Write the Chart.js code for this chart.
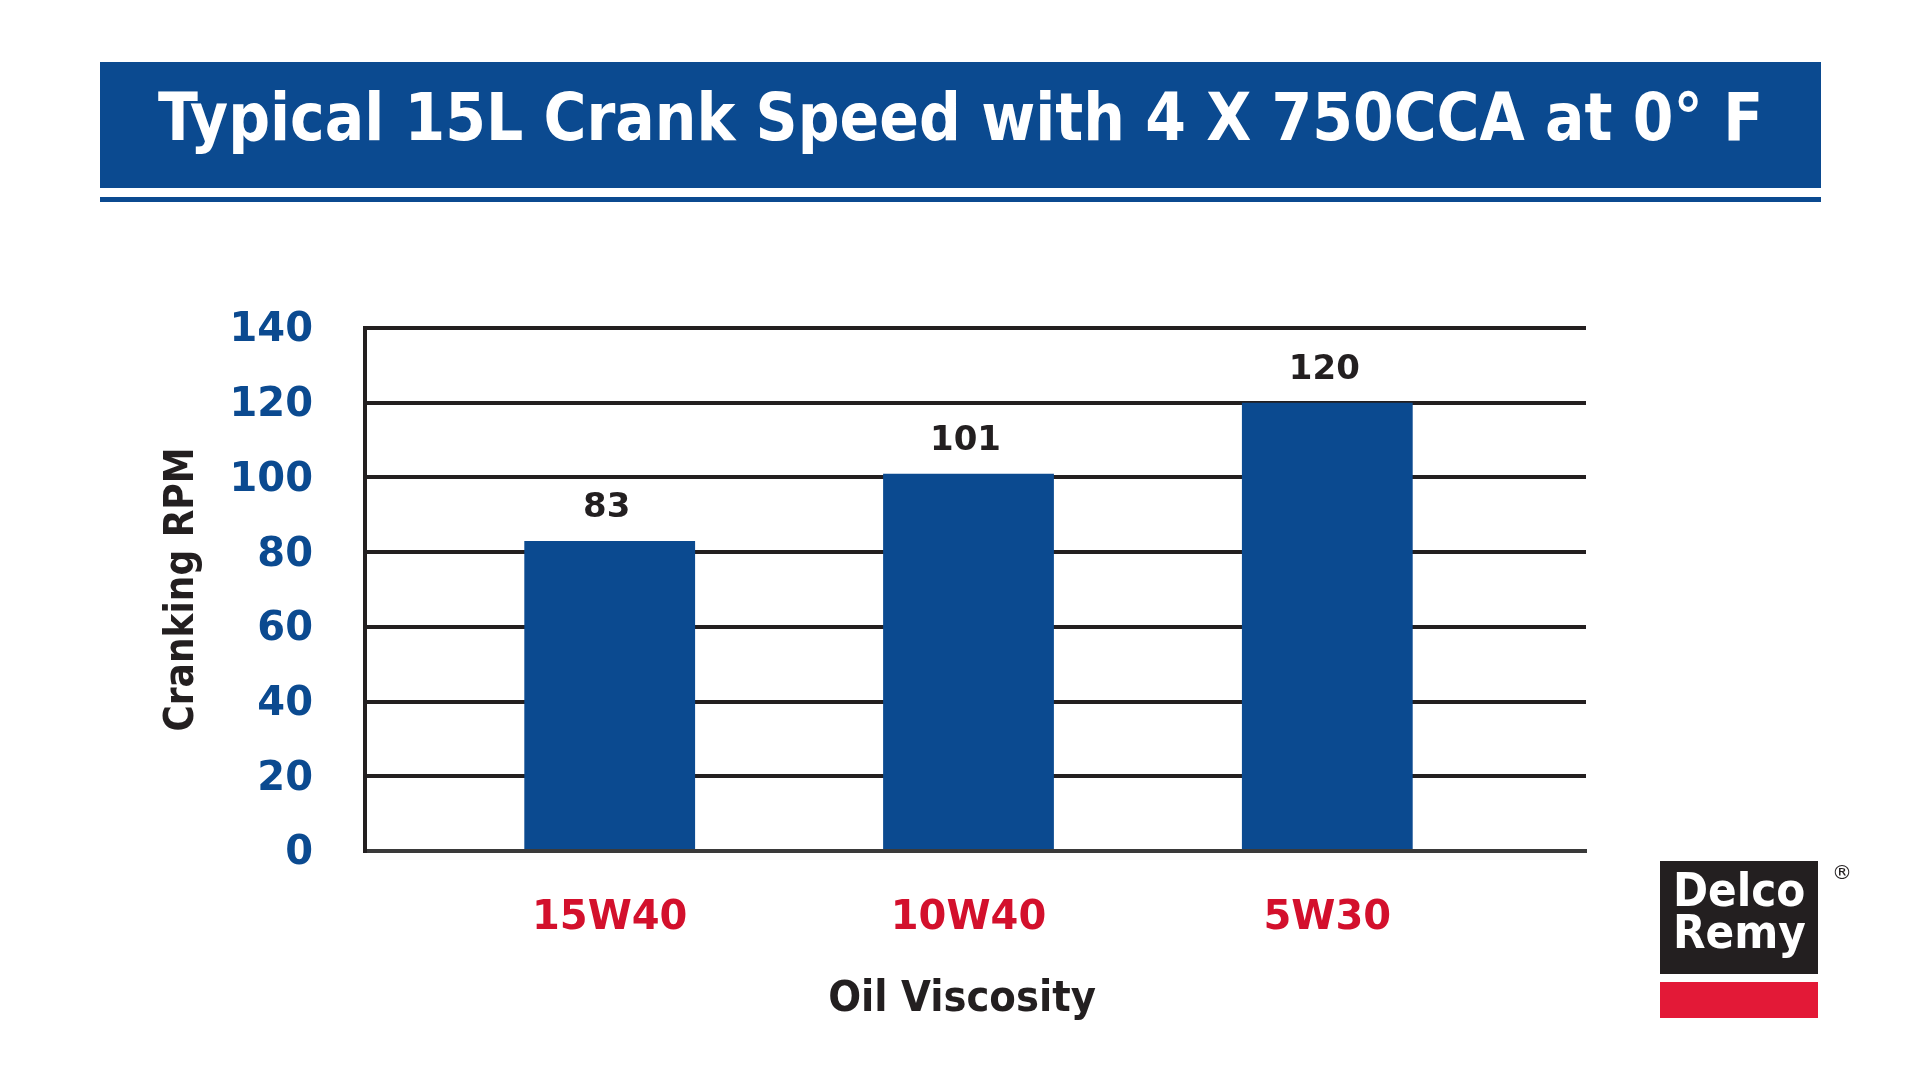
<!DOCTYPE html>
<html>
<head>
<meta charset="utf-8">
<script src="https://cdn.jsdelivr.net/npm/chart.js@4.4.1/dist/chart.umd.min.js"></script>
<style>
  body { margin: 0; background: #fff; }
  #wrap { position: relative; width: 1920px; height: 1080px; overflow: hidden; }
  #banner {
    position: absolute; left: 100px; top: 62px; width: 1721px; height: 126px;
    background: #0b4a90; color: #fff;
    font-family: "DejaVu Sans Condensed", "DejaVu Sans"; font-weight: bold; font-stretch: condensed;
    font-size: 65px; text-align: center; line-height: 112px; white-space: nowrap;
  }
  #rule { position: absolute; left: 100px; top: 197px; width: 1721px; height: 5px; background: #0b4a90; }
  canvas { position: absolute; left: 0; top: 0; }
  #logo { position: absolute; left: 1660px; top: 861px; width: 158px; height: 113px; background: #231f20; }
  #logo div {
    position: absolute; left: 13px; color: #fff; font-family: "DejaVu Sans Condensed", "DejaVu Sans";
    font-weight: bold; font-stretch: condensed; font-size: 47px; line-height: 46px;
  }
  #logoRed { position: absolute; left: 1660px; top: 982px; width: 158px; height: 36px; background: #e31937; }
  #reg { position: absolute; left: 1832px; top: 860px; font-family: "DejaVu Sans"; font-size: 20px; color: #231f20; }
</style>
</head>
<body>
<div id="wrap">
  <canvas id="crankChart" width="1920" height="1080"></canvas>
  <div id="banner">Typical 15L Crank Speed with 4 X 750CCA at 0° F</div>
  <div id="rule"></div>
  <div id="logo"><div style="top:6px">Delco</div><div style="top:48px">Remy</div></div>
  <div id="logoRed"></div>
  <div id="reg">®</div>
</div>
<script>
// data
const oilGrades = ['15W40', '10W40', '5W30'];
const crankRpm = [83, 101, 120];
const gradePos = [1, 2, 3];

const blue = '#0b4a90';
const red = '#d3102c';
const ink = '#231f20';

// value labels above each bar
const barLabels = {
    id: 'barLabels',
    afterDatasetsDraw(chart) {
        const ctx = chart.ctx;
        ctx.save();
        ctx.font = 'bold 34px "DejaVu Sans"';
        ctx.fillStyle = ink;
        ctx.textAlign = 'center';
        ctx.textBaseline = 'middle';
        chart.getDatasetMeta(0).data.forEach((bar, i) => {
            ctx.fillText(crankRpm[i], bar.x - 3, bar.y - 33);
        });
        ctx.restore();
    }
};

const ctx = document.getElementById('crankChart').getContext('2d');

new Chart(ctx, {
    type: 'bar',
    data: {
        datasets: [{
            data: gradePos.map((x, i) => ({ x: x, y: crankRpm[i] })),
            backgroundColor: blue,
            borderWidth: 0,
            categoryPercentage: 1,
            barPercentage: 0.476
        }]
    },
    options: {
        responsive: false,
        animation: false,
        layout: {
            padding: { left: 159, right: 334, top: 328, bottom: 54 }
        },
        scales: {
            x: {
                type: 'linear',
                offset: false,
                min: 0.318,
                max: 3.721,
                afterBuildTicks: (scale) => {
                    scale.ticks = gradePos.map(v => ({ value: v }));
                },
                afterFit: (scale) => { scale.height = 175; },
                grid: { display: false, drawTicks: false, offset: false },
                border: { display: true, color: '#3a3a3a', width: 4 },
                ticks: {
                    padding: 44,
                    color: red,
                    font: { family: 'DejaVu Sans', size: 40, weight: 'bold' },
                    callback: (value) => oilGrades[value - 1]
                },
                title: {
                    display: true,
                    text: 'Oil Viscosity  ',
                    color: ink,
                    padding: 0,
                    font: { family: 'DejaVu Sans Condensed, DejaVu Sans', size: 43, weight: 'bold' }
                }
            },
            y: {
                min: 0,
                max: 140,
                afterFit: (scale) => { scale.width = 206; },
                grid: {
                    drawTicks: false,
                    color: (c) => c.tick && c.tick.value === 0 ? '#3a3a3a' : ink,
                    lineWidth: 4
                },
                border: { display: true, color: ink, width: 4 },
                ticks: {
                    stepSize: 20,
                    padding: 52,
                    labelOffset: 3,
                    color: blue,
                    font: { family: 'DejaVu Sans', size: 40, weight: 'bold' }
                },
                title: {
                    display: true,
                    text: 'Cranking RPM',
                    color: ink,
                    padding: 0,
                    font: { family: 'DejaVu Sans Condensed, DejaVu Sans', size: 40, weight: 'bold' }
                }
            }
        },
        plugins: {
            legend: { display: false },
            tooltip: { enabled: false }
        }
    },
    plugins: [barLabels]
});
</script>
</body>
</html>
